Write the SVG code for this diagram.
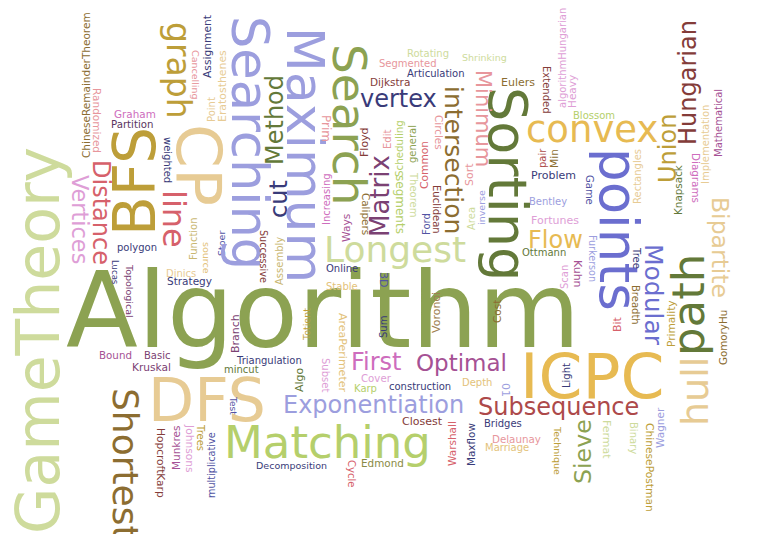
<svg xmlns="http://www.w3.org/2000/svg" width="761" height="534" viewBox="0 0 761 534">
<style>
text{font-family:"DejaVu Sans","Liberation Sans",sans-serif}
.c1{fill:#393b79}.c2{fill:#5254a3}.c3{fill:#6b6ecf}.c4{fill:#9c9ede}
.c5{fill:#637939}.c6{fill:#8ca252}.c7{fill:#b5cf6b}.c8{fill:#cedb9c}
.c9{fill:#8c6d31}.c10{fill:#bd9e39}.c11{fill:#e7ba52}.c12{fill:#e7cb94}
.c13{fill:#843c39}.c14{fill:#ad494a}.c15{fill:#d6616b}.c16{fill:#e7969c}
.c17{fill:#7b4173}.c18{fill:#a55194}.c19{fill:#ce6dbd}.c20{fill:#de9ed6}
.gl{fill:#e3c27a}.kh{fill:#c9b772}.dp{fill:#5a3560}.ol{fill:#8a8a45}.br{fill:#a08050}
</style>
<rect width="761" height="534" fill="#ffffff"/>
<g id="words">
<text class="c6" x="66" y="347" font-size="105">Algorithm</text>
<text class="c12" x="148" y="421" font-size="60">DFS</text>
<text class="c11" x="520" y="398" font-size="63">ICPC</text>
<text class="c7" x="224" y="458" font-size="45">Matching</text>
<text class="c8" x="324" y="262" font-size="36">Longest</text>
<text class="c11" x="526" y="142" font-size="37">convex</text>
<text class="c4" x="283" y="413" font-size="24">Exponentiation</text>
<text class="c14" x="478" y="415" font-size="24">Subsequence</text>
<text class="c18" x="416" y="371" font-size="23">Optimal</text>
<text class="c19" x="351" y="370" font-size="24">First</text>
<text class="c1" x="360" y="107" font-size="24">vertex</text>
<text class="c11" x="528" y="248" font-size="24">Flow</text>
<text class="c13" x="370" y="86" font-size="10.5">Dijkstra</text>
<text class="c16" x="379" y="67" font-size="10">Segmented</text>
<text class="c8" x="407" y="57" font-size="10">Rotating</text>
<text class="c8" x="462" y="61" font-size="9.5">Shrinking</text>
<text class="c1" x="407" y="77" font-size="10">Articulation</text>
<text class="c9" x="501" y="86" font-size="11">Eulers</text>
<text class="c7" x="573" y="119" font-size="10">Blossom</text>
<text class="c1" x="531" y="179" font-size="11">Problem</text>
<text class="c4" x="529" y="205" font-size="10">Bentley</text>
<text class="c20" x="531" y="224" font-size="11">Fortunes</text>
<text class="c5" x="522" y="256" font-size="10">Ottmann</text>
<text class="c1" x="389" y="390" font-size="10">construction</text>
<text class="gl" x="462" y="386" font-size="10">Depth</text>
<text class="c13" x="402" y="425" font-size="11">Closest</text>
<text class="c1" x="484" y="427" font-size="10">Bridges</text>
<text class="c16" x="492" y="443" font-size="10.3">Delaunay</text>
<text class="gl" x="485" y="451" font-size="10">Marriage</text>
<text class="ol" x="361" y="467" font-size="10.4">Edmond</text>
<text class="c1" x="256" y="469" font-size="9.5">Decomposition</text>
<text class="c20" x="361" y="382" font-size="10.2">Cover</text>
<text class="c7" x="354" y="392" font-size="10">Karp</text>
<text class="c1" x="237" y="364" font-size="10">Triangulation</text>
<text class="c5" x="224" y="373" font-size="10">mincut</text>
<text class="c18" x="99" y="359" font-size="10.3">Bound</text>
<text class="c17" x="144" y="359" font-size="10">Basic</text>
<text class="c17" x="132" y="371" font-size="10.6">Kruskal</text>
<text class="c1" x="326" y="272" font-size="10">Online</text>
<text class="gl" x="326" y="290" font-size="10">Stable</text>
<text class="c1" x="167" y="285" font-size="10.5">Strategy</text>
<text class="c12" x="166" y="277" font-size="10">Dinics</text>
<text class="c1" x="117" y="251" font-size="10">polygon</text>
<text class="dp" x="111" y="128" font-size="10.2">Partition</text>
<text class="c19" x="114" y="118" font-size="10.4">Graham</text>
<text class="c8" transform="translate(59 534) rotate(-90)" font-size="60">GameTheory</text>
<text class="c10" transform="translate(155 236) rotate(-90)" font-size="58">BFS</text>
<text class="c5" transform="translate(704 356) rotate(-90)" font-size="45">path</text>
<text class="c12" transform="translate(708 426) rotate(-90)" font-size="38">hull</text>
<text class="c5" transform="translate(283 165) rotate(-90)" font-size="24">Method</text>
<text class="c17" transform="translate(389 237) rotate(-90)" font-size="26">Matrix</text>
<text class="c1" transform="translate(287 218) rotate(-90)" font-size="24">cut</text>
<text class="c10" transform="translate(676 183) rotate(-90)" font-size="24">Union</text>
<text class="c13" transform="translate(696 145) rotate(-90)" font-size="24">Hungarian</text>
<text class="c6" transform="translate(591 484) rotate(-90)" font-size="23.7">Sieve</text>
<text class="c9" transform="translate(90 158) rotate(-90)" font-size="10.5">ChineseRemainderTheorem</text>
<text class="c1" transform="translate(211 78) rotate(-90)" font-size="10.7">Assignment</text>
<text class="c12" transform="translate(214.5 122) rotate(-90)" font-size="10">Point</text>
<text class="c12" transform="translate(226 122) rotate(-90)" font-size="10.9">Eratosthenes</text>
<text class="c13" transform="translate(368 157) rotate(-90)" font-size="11">Floyd</text>
<text class="c16" transform="translate(390.5 149) rotate(-90)" font-size="10">Edit</text>
<text class="c20" transform="translate(565.5 108) rotate(-90)" font-size="10">algorithmHungarian</text>
<text class="c20" transform="translate(576 108) rotate(-90)" font-size="10.5">Heavy</text>
<text class="c12" transform="translate(708.5 184) rotate(-90)" font-size="10">Implementation</text>
<text class="c18" transform="translate(721.5 157) rotate(-90)" font-size="10">Mathematical</text>
<text class="c12" transform="translate(641.3 204) rotate(-90)" font-size="10">Rectangles</text>
<text class="c5" transform="translate(681.5 215) rotate(-90)" font-size="10.4">Knapsack</text>
<text class="c14" transform="translate(545.6 168) rotate(-90)" font-size="10">pair</text>
<text class="c9" transform="translate(557.8 168) rotate(-90)" font-size="10.7">Min</text>
<text class="c7" transform="translate(402.6 177) rotate(-90)" font-size="10.3">Scheduling</text>
<text class="c6" transform="translate(415.6 163) rotate(-90)" font-size="10">general</text>
<text class="c15" transform="translate(427.8 189) rotate(-90)" font-size="10.7">Common</text>
<text class="c2" transform="translate(429.6 235) rotate(-90)" font-size="10">Ford</text>
<text class="c16" transform="translate(473 186) rotate(-90)" font-size="11">Sort</text>
<text class="c8" transform="translate(475.3 230) rotate(-90)" font-size="10">Area</text>
<text class="c4" transform="translate(485.3 225) rotate(-90)" font-size="9.5">inverse</text>
<text class="c20" transform="translate(568 289) rotate(-90)" font-size="10">Scan</text>
<text class="c15" transform="translate(621 332) rotate(-90)" font-size="11">Bit</text>
<text class="c10" transform="translate(675 347) rotate(-90)" font-size="10.6">Primality</text>
<text class="c9" transform="translate(726.5 365) rotate(-90)" font-size="10.3">GomoryHu</text>
<text class="c9" transform="translate(500.7 323) rotate(-90)" font-size="10.5">Cost</text>
<text class="br" transform="translate(440 333) rotate(-90)" font-size="11">Voronoi</text>
<text class="c1" transform="translate(569.6 388) rotate(-90)" font-size="10">Light</text>
<text class="c15" transform="translate(456 466) rotate(-90)" font-size="10.5">Warshall</text>
<text class="c1" transform="translate(475 466) rotate(-90)" font-size="10.4">Maxflow</text>
<text class="c4" transform="translate(663.7 448) rotate(-90)" font-size="10.5">Wagner</text>
<text class="c5" transform="translate(303 392) rotate(-90)" font-size="11">Algo</text>
<text class="c2" transform="translate(215.4 498) rotate(-90)" font-size="9.7">multiplicative</text>
<text class="c18" transform="translate(179.7 470) rotate(-90)" font-size="10.5">Munkres</text>
<text class="c19" transform="translate(329.5 225) rotate(-90)" font-size="10">Increasing</text>
<text class="c18" transform="translate(350 242) rotate(-90)" font-size="10.7">Ways</text>
<text class="c1" transform="translate(387 338) rotate(-90)" font-size="10">Sum</text>
<text class="c10" transform="translate(310 340) rotate(-90)" font-size="9.5">Totient</text>
<text class="c17" transform="translate(239 353) rotate(-90)" font-size="11">Branch</text>
<text class="kh" transform="translate(282.6 285) rotate(-90)" font-size="10">Assembly</text>
<text class="c2" transform="translate(225 256) rotate(-90)" font-size="9.5">Stoer</text>
<text class="kh" transform="translate(197.3 260) rotate(-90)" font-size="10">Function</text>
<text class="c4" transform="translate(232 16) rotate(90)" font-size="51">Searching</text>
<text class="c4" transform="translate(287 27) rotate(90)" font-size="52">Maximum</text>
<text class="c6" transform="translate(333 44) rotate(90)" font-size="47">Search</text>
<text class="c5" transform="translate(489 87) rotate(90)" font-size="54">Sorting</text>
<text class="c3" transform="translate(600 148) rotate(90)" font-size="53">points</text>
<text class="c12" transform="translate(177 124) rotate(90)" font-size="63">CP</text>
<text class="c10" transform="translate(167 22) rotate(90)" font-size="33">graph</text>
<text class="c9" transform="translate(113 388) rotate(90)" font-size="36">Shortest</text>
<text class="c16" transform="translate(476 70) rotate(90)" font-size="21">Minimum</text>
<text class="c9" transform="translate(445 86) rotate(90)" font-size="25">intersection</text>
<text class="c3" transform="translate(645 244) rotate(90)" font-size="25">Modular</text>
<text class="c12" transform="translate(712 197) rotate(90)" font-size="23.5">Bipartite</text>
<text class="c20" transform="translate(72 175) rotate(90)" font-size="22.4">Vertices</text>
<text class="c15" transform="translate(93 160) rotate(90)" font-size="24">Distance</text>
<text class="c15" transform="translate(163 190) rotate(90)" font-size="32">line</text>
<text class="c16" transform="translate(93 88) rotate(90)" font-size="10.5">Randomized</text>
<text class="c16" transform="translate(192 50) rotate(90)" font-size="9.5">Cancelling</text>
<text class="c16" transform="translate(322 115) rotate(90)" font-size="12">Prim</text>
<text class="c13" transform="translate(543 66) rotate(90)" font-size="10">Extended</text>
<text class="c19" transform="translate(692 153) rotate(90)" font-size="10.4">Diagrams</text>
<text class="c16" transform="translate(435 115) rotate(90)" font-size="10.4">Circles</text>
<text class="c8" transform="translate(410 173) rotate(90)" font-size="10">Theorem</text>
<text class="c7" transform="translate(396 175) rotate(90)" font-size="12">segments</text>
<text class="c13" transform="translate(433 185) rotate(90)" font-size="10">Euclidean</text>
<text class="c2" transform="translate(586 175) rotate(90)" font-size="10">Game</text>
<text class="c4" transform="translate(589 235) rotate(90)" font-size="9.6">Furkerson</text>
<text class="c18" transform="translate(574 260) rotate(90)" font-size="11">Kuhn</text>
<text class="c1" transform="translate(633 248) rotate(90)" font-size="10">Tree</text>
<text class="c9" transform="translate(632 285) rotate(90)" font-size="10">Breadth</text>
<text class="c4" transform="translate(502 383) rotate(90)" font-size="11">01</text>
<text class="c10" transform="translate(554 427) rotate(90)" font-size="9.5">Technique</text>
<text class="c8" transform="translate(603 420) rotate(90)" font-size="11">Fermat</text>
<text class="c8" transform="translate(630 422) rotate(90)" font-size="10">Binary</text>
<text class="c10" transform="translate(646 423) rotate(90)" font-size="10.7">ChinesePostman</text>
<text class="c15" transform="translate(348 460) rotate(90)" font-size="10">Cycle</text>
<text class="c20" transform="translate(322 358) rotate(90)" font-size="10">Subset</text>
<text class="gl" transform="translate(339 313) rotate(90)" font-size="11">AreaPerimeter</text>
<text class="c2" transform="translate(230 397) rotate(90)" font-size="9">Test</text>
<text class="c10" transform="translate(197 425) rotate(90)" font-size="10">Trees</text>
<text class="c20" transform="translate(186 425) rotate(90)" font-size="10.7">Johnsons</text>
<text class="c13" transform="translate(157 428) rotate(90)" font-size="10.6">HopcroftKarp</text>
<text class="c9" transform="translate(362 193) rotate(90)" font-size="10.4">Calipers</text>
<text class="c2" transform="translate(380 272) rotate(90)" font-size="11">3D</text>
<text class="c13" transform="translate(260 230) rotate(90)" font-size="9.6">Successive</text>
<text class="gl" transform="translate(203 242) rotate(90)" font-size="9.5">source</text>
<text class="c17" transform="translate(126 265) rotate(90)" font-size="9.5">Topological</text>
<text class="c1" transform="translate(112 260) rotate(90)" font-size="8.5">Lucas</text>
<text class="c1" transform="translate(164 137) rotate(90)" font-size="10">weighted</text>
</g>
</svg>
